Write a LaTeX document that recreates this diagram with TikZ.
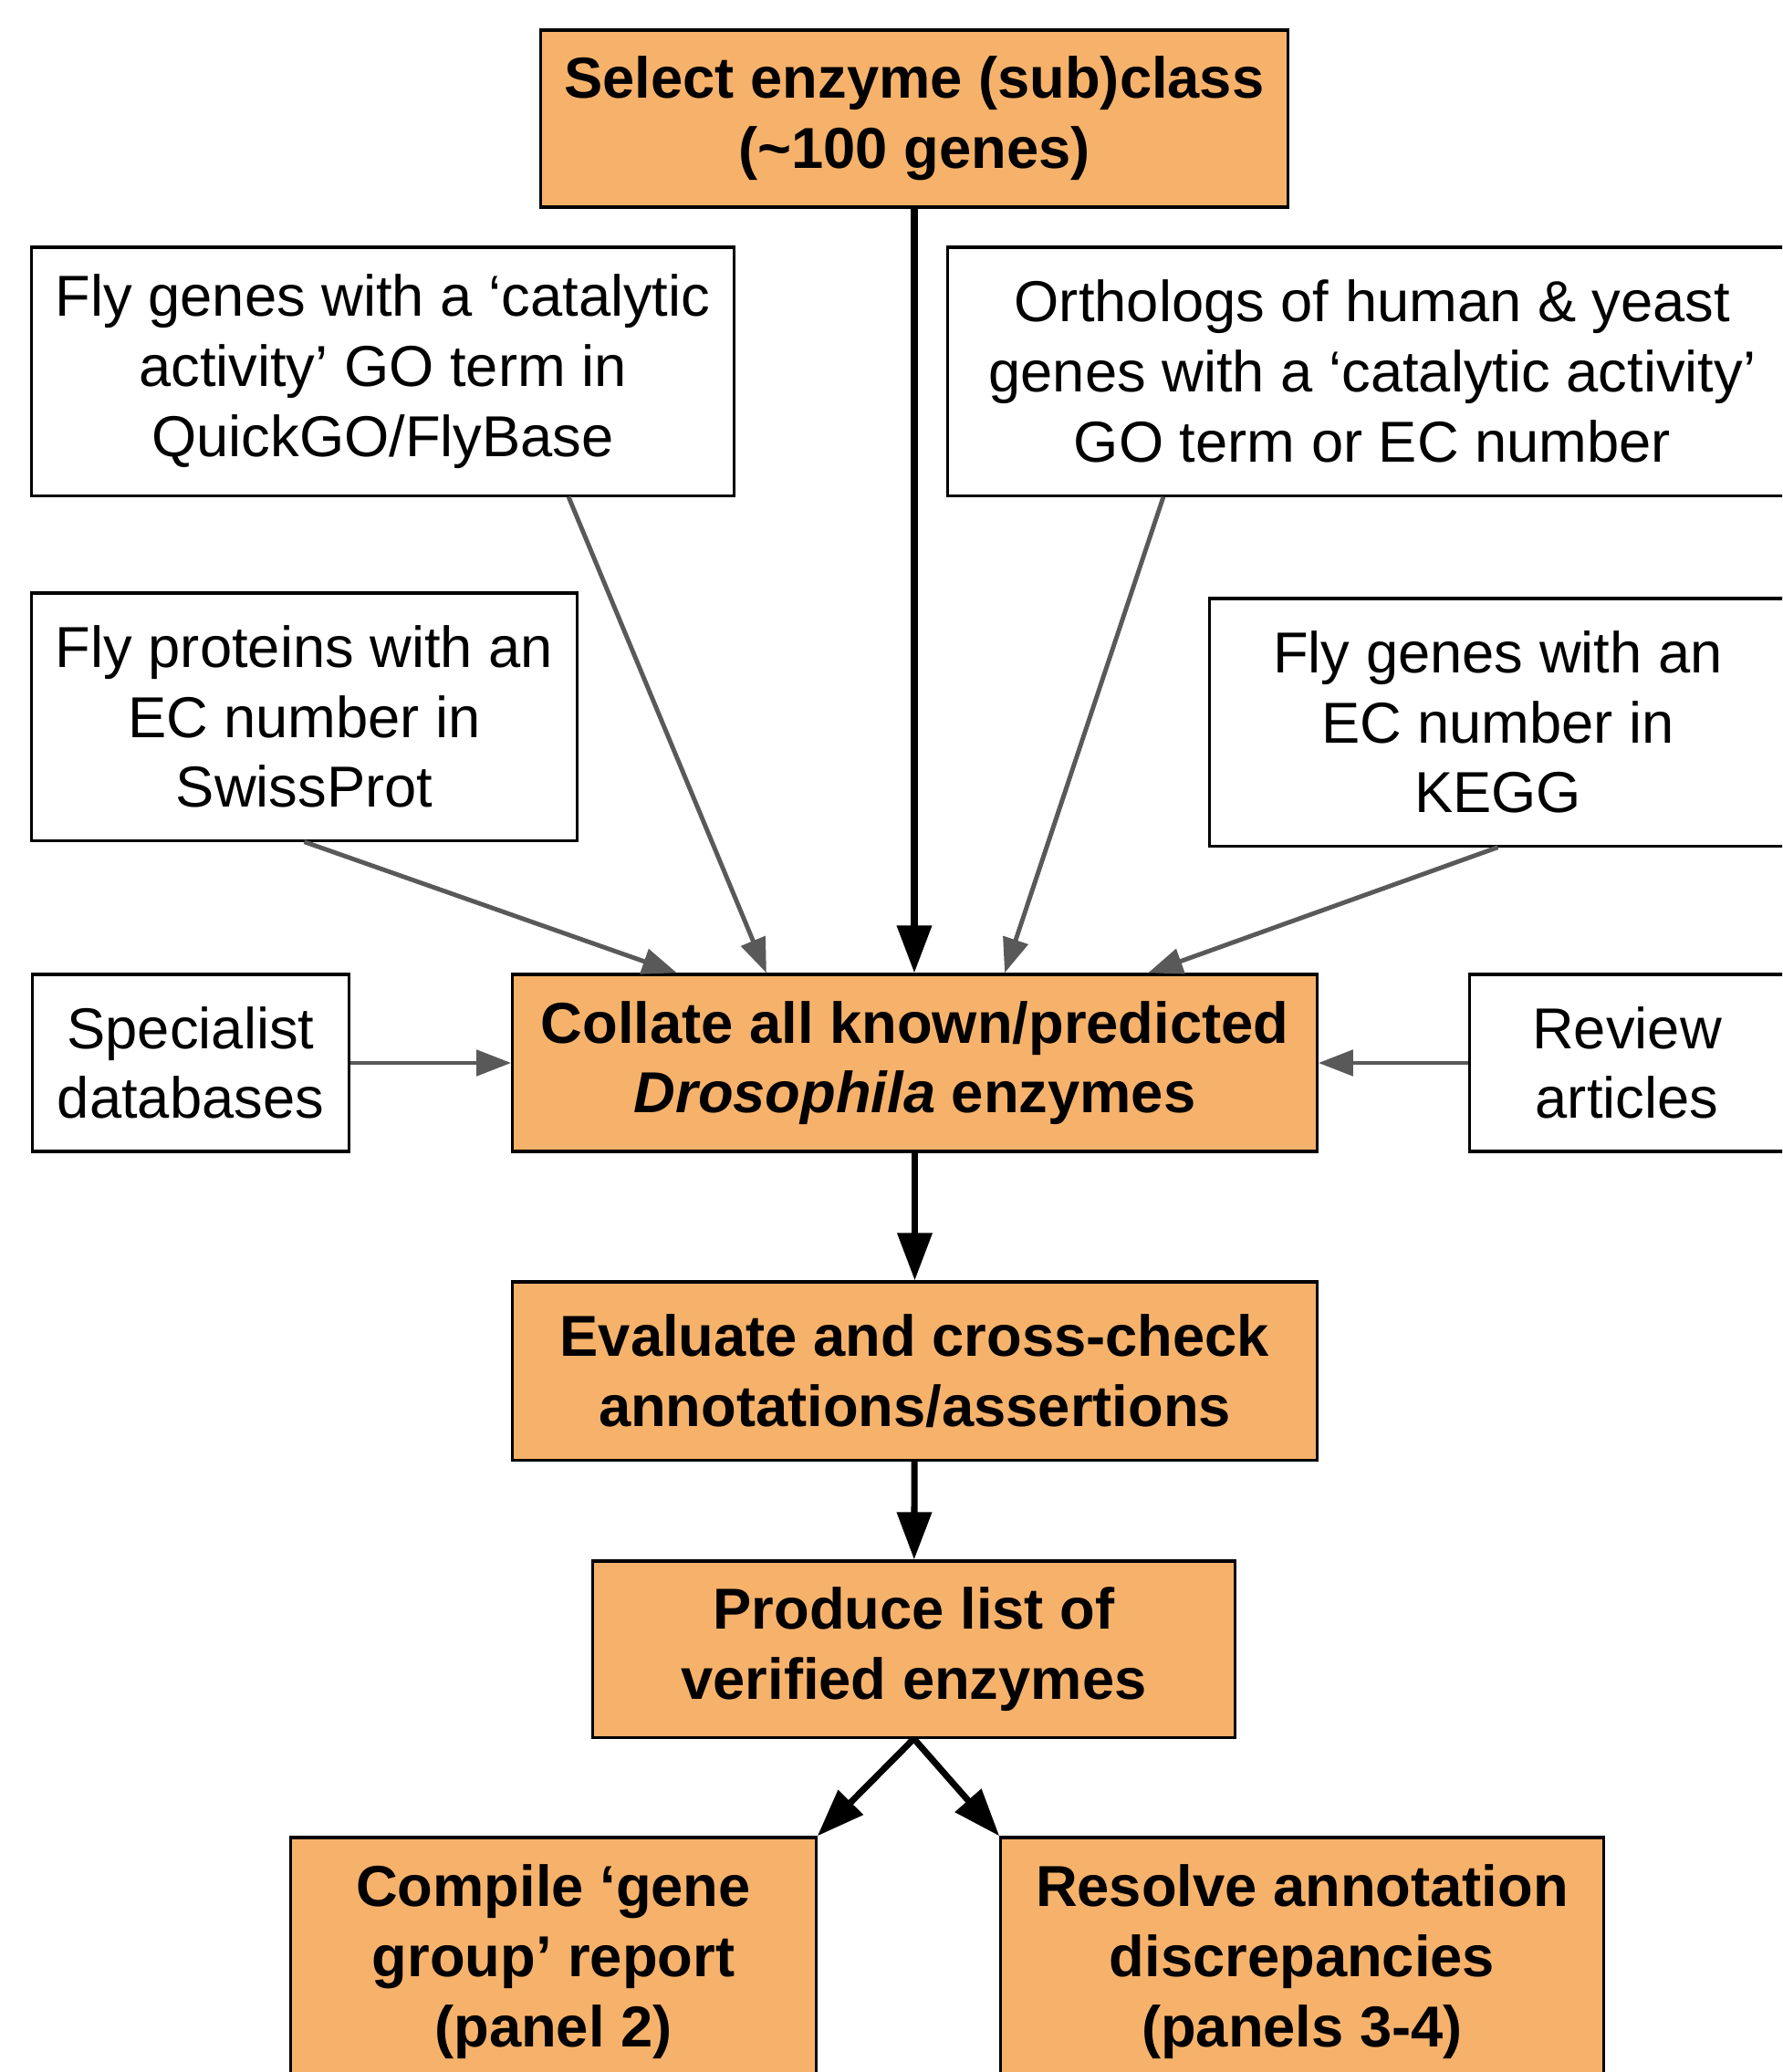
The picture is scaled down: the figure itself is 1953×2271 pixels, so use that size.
\documentclass[tikz,border=0pt]{standalone}
\usepackage{fontspec}
\setmainfont{Liberation Sans}
\usetikzlibrary{arrows.meta}
\definecolor{boxorange}{HTML}{F6B26B}
\definecolor{arrowgray}{HTML}{595959}

\begin{document}
\begin{tikzpicture}[x=0.01cm, y=-0.01cm,
  srcbox/.style={draw=black, line width=0.9pt, fill=white, align=center, inner sep=0pt, font=\fontsize{18}{21.8}\selectfont},
  stepbox/.style={srcbox, fill=boxorange, font=\fontsize{18}{21.8}\selectfont\bfseries},
  grayarrow/.style={draw=arrowgray, line width=1.4pt, -{Triangle[arrowgray, length=3.8mm, width=2.8mm]}},
  mainarrow/.style={draw=black, line width=2pt, -{Triangle[black, length=5.2mm, width=3.7mm]}}]

\useasboundingbox (0,0) rectangle (1953,2271);
\clip (0,0) rectangle (1953,2271);

% main steps
\node[stepbox, minimum width=8.18cm, minimum height=1.94cm] (select) at (1002,130) {Select enzyme (sub)class\\(\textasciitilde100 genes)};
\node[stepbox, minimum width=8.81cm, minimum height=1.94cm] (collate) at (1002.5,1165) {Collate all known/predicted\\\textit{Drosophila} enzymes};
\node[stepbox, minimum width=8.81cm, minimum height=1.95cm] (evaluate) at (1002.5,1502.5) {Evaluate and cross-check\\annotations/assertions};
\node[stepbox, minimum width=7.03cm, minimum height=1.93cm] (produce) at (1001.5,1807.5) {Produce list of\\verified enzymes};
\node[stepbox, minimum width=5.75cm, minimum height=2.72cm] (compile) at (606.5,2150) {Compile ‘gene\\group’ report\\(panel 2)};
\node[stepbox, minimum width=6.60cm, minimum height=2.72cm] (resolve) at (1427,2150) {Resolve annotation\\discrepancies\\(panels 3-4)};

% sources
\node[srcbox, minimum width=7.69cm, minimum height=2.72cm] (flygo) at (419.5,407) {Fly genes with a ‘catalytic\\activity’ GO term in\\QuickGO/FlyBase};
\node[srcbox, minimum width=9.30cm, minimum height=2.72cm] (ortho) at (1504,407) {Orthologs of human \& yeast\\genes with a ‘catalytic activity’\\GO term or EC number};
\node[srcbox, minimum width=5.97cm, minimum height=2.71cm] (flyprot) at (333.5,785.5) {Fly proteins with an\\EC number in\\SwissProt};
\node[srcbox, minimum width=6.31cm, minimum height=2.71cm] (kegg) at (1641.5,791.5) {Fly genes with an\\EC number in\\KEGG};
\node[srcbox, minimum width=3.46cm, minimum height=1.94cm] (spec) at (209,1165) {Specialist\\databases};
\node[srcbox, minimum width=3.44cm, minimum height=1.94cm] (review) at (1783,1165) {Review\\articles};

\draw[grayarrow] ([xshift=2.035cm]flygo.south) -- ([xshift=-1.625cm]collate.north);
\draw[grayarrow] ([xshift=-2.29cm]ortho.south) -- ([xshift=0.985cm]collate.north);
\draw[grayarrow] (flyprot.south) -- ([xshift=-2.605cm]collate.north);
\draw[grayarrow] (kegg.south) -- ([xshift=2.555cm]collate.north);
\draw[grayarrow] (spec) -- (collate);
\draw[grayarrow] (review) -- (collate);

\draw[mainarrow] (select.south) -- (select.south |- collate.north);
\draw[mainarrow] (collate) -- (evaluate);
\draw[mainarrow] (evaluate) -- (produce);
\draw[mainarrow] (produce.south) -- (compile.north east);
\draw[mainarrow] (produce.south) -- (resolve.north west);

\end{tikzpicture}
\end{document}
